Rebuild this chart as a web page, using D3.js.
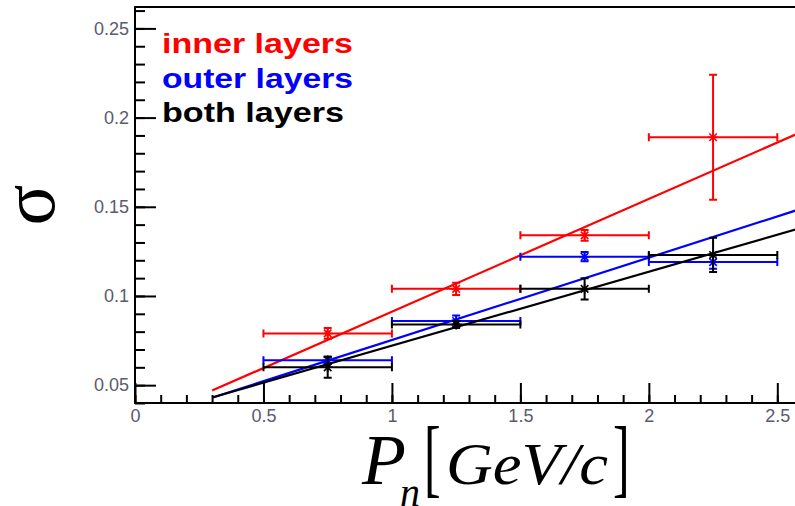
<!DOCTYPE html>
<html>
<head>
<meta charset="utf-8">
<title>Resolution vs momentum</title>
<script src="https://cdn.jsdelivr.net/npm/d3@7/dist/d3.min.js"></script>
<style>
  body { margin: 0; padding: 0; background: #fff; }
  svg { display: block; }
  .tick text { fill: #5a5a70; font-family: "Liberation Sans", Arial, sans-serif; font-size: 18px; }
  .tick line { stroke: #000; stroke-width: 2; }
  .legend text { font-family: "Liberation Sans", Arial, sans-serif; font-size: 28px; font-weight: bold; }
</style>
</head>
<body>
<script>
// bin centres and half widths (GeV/c)
var momentum = [0.75, 1.25, 1.75, 2.25];
var momentumErr = [0.25, 0.25, 0.25, 0.25];

// sigma per layer set
var innerSigma = [0.079, 0.104, 0.134, 0.189];
var innerErr = [0.003, 0.0034, 0.003, 0.035];
var outerSigma = [0.064, 0.086, 0.122, 0.119];
var outerErr = [0.002, 0.003, 0.0026, 0.0037];
var bothSigma = [0.060, 0.084, 0.104, 0.123];
var bothErr = [0.0058, 0.002, 0.006, 0.0096];

// linear fits: [intercept, slope] over fitRange
var fitRange = [0.3, 2.6];
var innerFit = [0.028, 0.0632];
var outerFit = [0.0291, 0.0462];
var bothFit = [0.0306, 0.0415];

var legendLabels = ["inner layers", "outer layers", "both layers"];
var xTicks = [0, 0.5, 1, 1.5, 2, 2.5];
var yTicks = [0.05, 0.1, 0.15, 0.2, 0.25];

var W = 795, H = 506;
var plotL = 135, plotT = 7, plotB = 403, plotR = 803;

var svg = d3.select("body").append("svg").attr("width", W).attr("height", H);

var x = d3.scaleLinear().domain([0, 2.6]).range([plotL, plotR]);
var y = d3.scaleLinear().domain([0.04, 0.262]).range([plotB, plotT]);

// minor ticks
svg.append("g").attr("transform", "translate(0," + plotB + ")")
  .call(d3.axisBottom(x).tickValues(d3.range(0, 2.61, 0.1)).tickSize(-8).tickFormat(""))
  .call(function (g) { g.select(".domain").remove(); });
svg.append("g").attr("transform", "translate(" + plotL + ",0)")
  .call(d3.axisLeft(y).tickValues(d3.range(0.04, 0.2605, 0.01)).tickSize(-10).tickFormat(""))
  .call(function (g) { g.select(".domain").remove(); });

// major ticks + labels
svg.append("g").attr("transform", "translate(0," + plotB + ")")
  .call(d3.axisBottom(x).tickValues(xTicks).tickSize(-20).tickPadding(5).tickFormat(d3.format("")))
  .call(function (g) {
    g.select(".domain").remove();
    g.selectAll(".tick text").attr("dy", "0.8em");
  });
svg.append("g").attr("transform", "translate(" + plotL + ",0)")
  .call(d3.axisLeft(y).tickValues(yTicks).tickSize(-21).tickPadding(6).tickFormat(d3.format("")))
  .call(function (g) { g.select(".domain").remove(); });

// frame
svg.append("path")
  .attr("d", "M" + plotR + "," + plotT + "H" + plotL + "V" + plotB + "H" + plotR)
  .attr("fill", "none").attr("stroke", "#000").attr("stroke-width", 2);

var series = [
  { color: "#ff0000", sig: innerSigma, err: innerErr, fit: innerFit },
  { color: "#0000ff", sig: outerSigma, err: outerErr, fit: outerFit },
  { color: "#000000", sig: bothSigma, err: bothErr, fit: bothFit }
];

var line = d3.line().x(function (d) { return x(d[0]); }).y(function (d) { return y(d[1]); });

series.forEach(function (s) {
  var g = svg.append("g").attr("stroke", s.color).attr("stroke-width", 2).attr("fill", "none");

  g.append("path").datum(fitRange.map(function (p) { return [p, s.fit[0] + s.fit[1] * p]; }))
    .attr("d", line).attr("stroke-width", 2.2);

  momentum.forEach(function (p, i) {
    var cx = x(p), cy = y(s.sig[i]);
    var x0 = x(p - momentumErr[i]), x1 = x(p + momentumErr[i]);
    var y0 = y(s.sig[i] - s.err[i]), y1 = y(s.sig[i] + s.err[i]);
    var d = "M" + x0 + "," + cy + "H" + x1 +
      "M" + x0 + "," + (cy - 4) + "V" + (cy + 4) +
      "M" + x1 + "," + (cy - 4) + "V" + (cy + 4) +
      "M" + cx + "," + y0 + "V" + y1 +
      "M" + (cx - 4) + "," + y0 + "H" + (cx + 4) +
      "M" + (cx - 4) + "," + y1 + "H" + (cx + 4);
    g.append("path").attr("d", d);
    // asterisk marker
    var r = 5;
    g.append("path").attr("stroke-width", 1.6)
      .attr("d", "M" + (cx - r) + "," + cy + "H" + (cx + r) +
        "M" + cx + "," + (cy - r) + "V" + (cy + r) +
        "M" + (cx - r * 0.75) + "," + (cy - r * 0.75) + "L" + (cx + r * 0.75) + "," + (cy + r * 0.75) +
        "M" + (cx - r * 0.75) + "," + (cy + r * 0.75) + "L" + (cx + r * 0.75) + "," + (cy - r * 0.75));
  });
});

// legend
var legendWidths = [191, 191, 182];
var leg = svg.append("g").attr("class", "legend");
legendLabels.forEach(function (t, i) {
  leg.append("text").attr("x", 162).attr("y", 53 + i * 34.5)
    .attr("fill", series[i].color)
    .attr("textLength", legendWidths[i]).attr("lengthAdjust", "spacingAndGlyphs")
    .text(t);
});

// y label
svg.append("text")
  .attr("transform", "translate(54,205) rotate(-90)")
  .attr("text-anchor", "middle")
  .style("font-family", "'Liberation Serif', 'DejaVu Serif', serif")
  .style("font-size", "76px")
  .text("σ");

// x label
var xl = svg.append("g").style("font-family", "'Liberation Serif', 'DejaVu Serif', serif").attr("fill", "#000");
xl.append("text").attr("x", 362).attr("y", 484).style("font-style", "italic").style("font-size", "72px").text("P");
xl.append("text").attr("x", 400).attr("y", 506).style("font-style", "italic").style("font-size", "40px").text("n");
xl.append("text").attr("transform", "translate(424,486) scale(1,1.75)").style("font-size", "50px").style("font-weight", "300").text("[");
xl.append("text").attr("x", 446).attr("y", 484).style("font-style", "italic").style("font-size", "60px")
  .attr("textLength", 162).attr("lengthAdjust", "spacingAndGlyphs").text("GeV/c");
xl.append("text").attr("transform", "translate(613,486) scale(1,1.75)").style("font-size", "50px").style("font-weight", "300").text("]");
</script>
</body>
</html>
